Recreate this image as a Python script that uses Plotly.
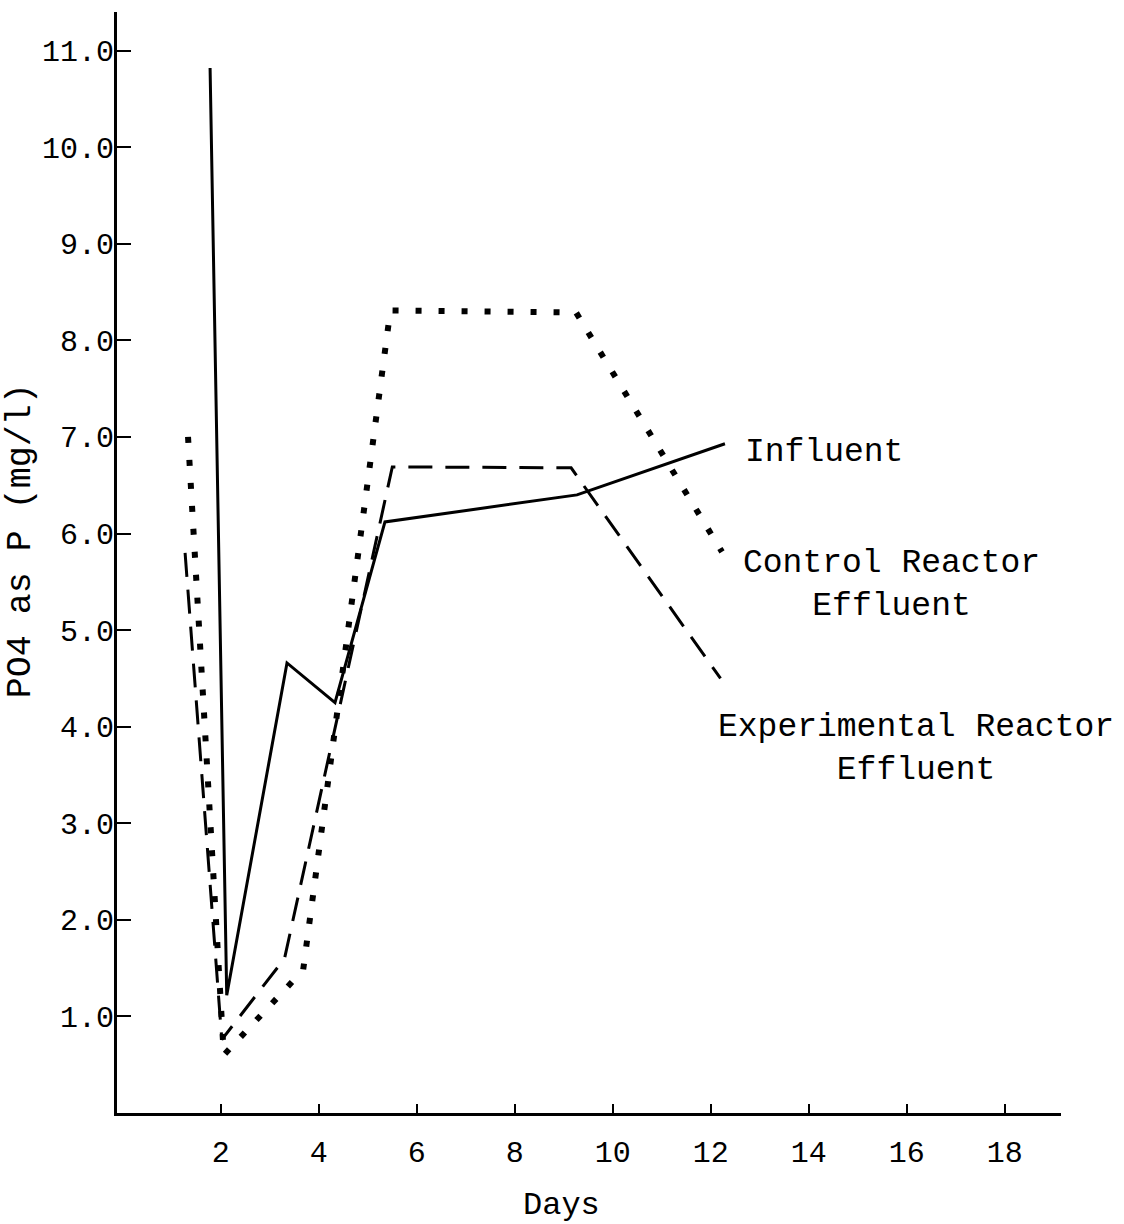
import plotly.graph_objects as go

# ---- data ----
influent_days = [1.78, 2.12, 3.35, 4.33, 5.35, 9.27, 12.29]
influent_p = [10.82, 1.22, 4.66, 4.25, 6.12, 6.40, 6.93]

control_days = [1.33, 2.06, 3.68, 5.46, 9.25, 12.23]
control_p = [7.00, 0.60, 1.48, 8.31, 8.29, 5.81]

experimental_days = [1.27, 2.02, 3.30, 5.50, 9.15, 12.20]
experimental_p = [5.80, 0.76, 1.60, 6.69, 6.68, 4.50]

x_tick_vals = [2, 4, 6, 8, 10, 12, 14, 16, 18]
x_tick_text = ["2", "4", "6", "8", "10", "12", "14", "16", "18"]
y_tick_vals = [1, 2, 3, 4, 5, 6, 7, 8, 9, 10, 11]
y_tick_text = ["1.0", "2.0", "3.0", "4.0", "5.0", "6.0", "7.0", "8.0", "9.0", "10.0", "11.0"]

FONT = "Liberation Mono"

fig = go.Figure()
fig.add_trace(go.Scatter(x=influent_days, y=influent_p, mode="lines", name="Influent",
                         line=dict(color="black", width=3)))
fig.add_trace(go.Scatter(x=control_days, y=control_p, mode="lines", name="Control Reactor Effluent",
                         line=dict(color="black", width=6, dash="6px,17px")))
fig.add_trace(go.Scatter(x=experimental_days, y=experimental_p, mode="lines",
                         name="Experimental Reactor Effluent",
                         line=dict(color="black", width=3, dash="24px,13px")))

ann_font = dict(family=FONT, size=33, color="black")
annotations = [
    dict(x=12.65, y=6.84, text="Influent", xanchor="left", yanchor="middle"),
    dict(x=15.68, y=5.47, text="Control Reactor<br>Effluent", xanchor="center",
         yanchor="middle", align="center"),
    dict(x=16.18, y=3.77, text="Experimental Reactor<br>Effluent", xanchor="center",
         yanchor="middle", align="center"),
]
for a in annotations:
    a.update(xref="x", yref="y", showarrow=False, font=ann_font)

# axis titles as annotations (placed as in the reference)
annotations.append(dict(x=8.95, y=0, xref="x", yref="paper", yshift=-92, text="Days",
                        showarrow=False, font=dict(family=FONT, size=32, color="black"),
                        xanchor="center", yanchor="middle"))
annotations.append(dict(x=0, y=5.92, xref="paper", yref="y", xshift=-96, text="PO4 as P (mg/l)",
                        textangle=-90, showarrow=False,
                        font=dict(family=FONT, size=35, color="black"),
                        xanchor="center", yanchor="middle"))

fig.update_layout(
    width=1124, height=1224,
    margin=dict(l=117, r=63, t=12, b=111),
    paper_bgcolor="white", plot_bgcolor="white",
    showlegend=False,
    annotations=annotations,
    font=dict(family=FONT, color="black"),
)
fig.update_xaxes(range=[-0.12, 19.15], showgrid=False, zeroline=False,
                 showline=True, linecolor="black", linewidth=3,
                 tickmode="array", tickvals=x_tick_vals, ticktext=x_tick_text,
                 ticks="inside", ticklen=9, tickwidth=2, tickcolor="black",
                 ticklabelstandoff=10,
                 tickfont=dict(family=FONT, size=30, color="black"))
fig.update_yaxes(range=[0, 11.4], showgrid=False, zeroline=False,
                 showline=True, linecolor="black", linewidth=3,
                 tickmode="array", tickvals=y_tick_vals, ticktext=y_tick_text,
                 ticks="inside", ticklen=14, tickwidth=2, tickcolor="black",
                 ticklabelstandoff=-6,
                 tickfont=dict(family=FONT, size=30, color="black"))

fig.write_html("out.html")
